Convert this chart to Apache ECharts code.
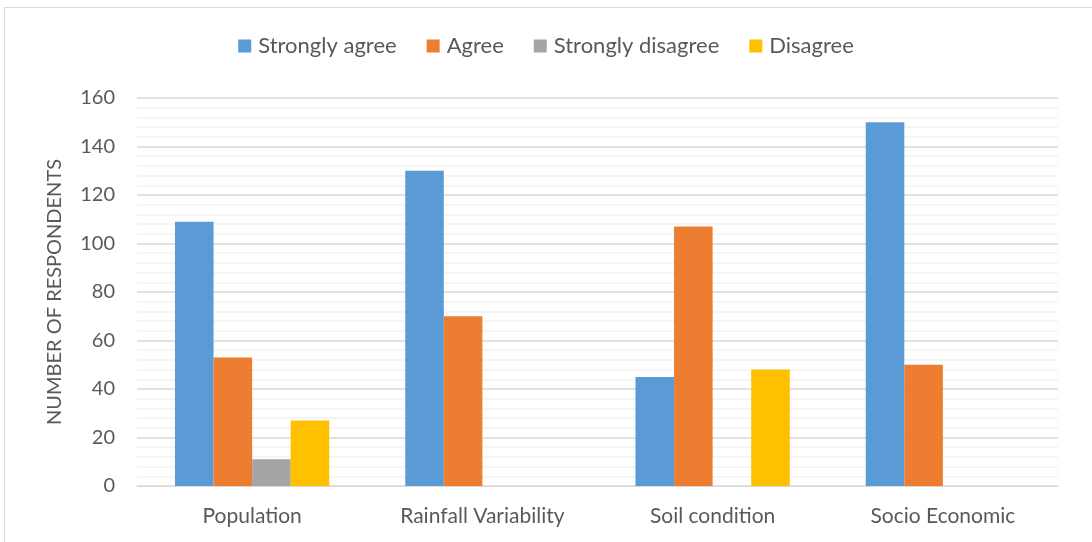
<!DOCTYPE html>
<html><head><meta charset="utf-8">
<script src="https://cdn.jsdelivr.net/npm/echarts@6/dist/echarts.min.js"></script>
<style>
html,body{margin:0;padding:0;background:#fff;}
#frame{position:absolute;left:4px;top:7px;width:1100px;height:545px;border:1px solid #d9d9d9;box-sizing:border-box;}
#chart{position:absolute;left:0;top:0;width:1092px;height:542px;}
</style></head>
<body><div id="frame"></div><div id="chart"></div>
<script>
const categories = ['Population', 'Rainfall Variability', 'Soil condition', 'Socio Economic'];
const seriesNames = ['Strongly agree', 'Agree', 'Strongly disagree', 'Disagree'];
const stronglyAgree = [109, 130, 45, 150];
const agree = [53, 70, 107, 50];
const stronglyDisagree = [11, 0, 0, 0];
const disagree = [27, 0, 48, 0];
const colors = ['#5b9bd5', '#ed7d31', '#a5a5a5', '#ffc000'];
const values = [stronglyAgree, agree, stronglyDisagree, disagree];

const font = 'Lato, "Open Sans", sans-serif';
const chart = echarts.init(document.getElementById('chart'));
chart.setOption({
  animation: false,
  textStyle: {fontFamily: font},
  legend: {
    top: 30, left: 'center',
    itemWidth: 13, itemHeight: 13, itemGap: 30,
    icon: 'rect',
    textStyle: {color: '#595959', fontSize: 22, fontFamily: font, padding: [0, 0, 0, 2]},
    data: seriesNames
  },
  grid: {left: 137, right: 34, top: 98, bottom: 56},
  xAxis: {
    type: 'category', data: categories,
    axisLine: {lineStyle: {color: '#d9d9d9', width: 1}},
    axisTick: {show: false},
    axisLabel: {color: '#595959', fontSize: 21, margin: 20, fontFamily: font}
  },
  yAxis: {
    type: 'value', min: 0, max: 160, interval: 20,
    name: 'NUMBER OF RESPONDENTS', nameLocation: 'middle', nameGap: 72,
    nameTextStyle: {color: '#595959', fontSize: 20, fontFamily: font},
    axisLine: {show: false}, axisTick: {show: false},
    axisLabel: {color: '#595959', fontSize: 20, margin: 22, fontFamily: font},
    splitLine: {lineStyle: {color: '#d9d9d9', width: 1.5}},
    minorTick: {show: false, splitNumber: 5},
    minorSplitLine: {show: true, lineStyle: {color: '#f2f2f2', width: 1.5}}
  },
  series: seriesNames.map((n, i) => ({
    name: n, type: 'bar', data: values[i],
    itemStyle: {color: colors[i]},
    barGap: '0%', barCategoryGap: '33%'
  }))
});
</script></body></html>
